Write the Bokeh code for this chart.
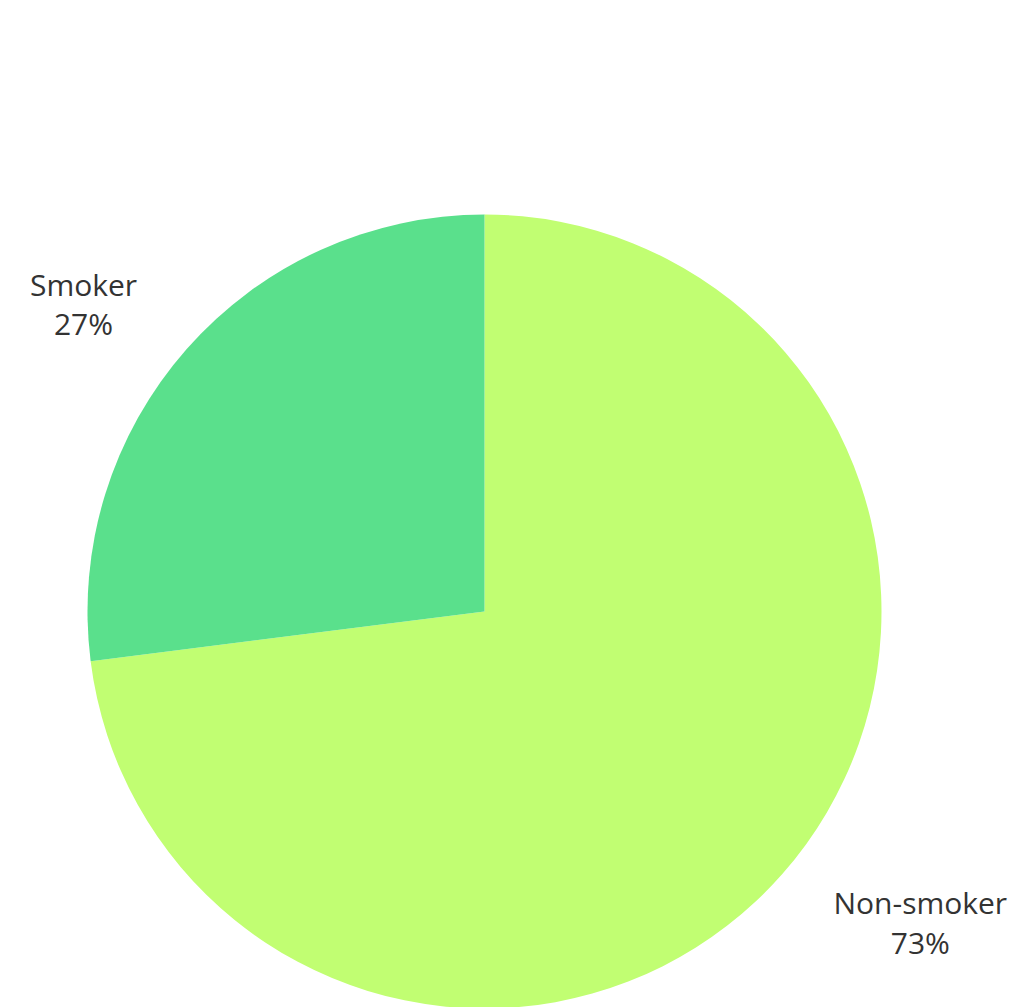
import numpy as np
from bokeh.plotting import figure
from bokeh.models import Range1d, ColumnDataSource
from bokeh.embed import file_html
from bokeh.resources import INLINE
from bokeh.core.properties import value

# ---- data ----
categories = ["Non-smoker", "Smoker"]
shares = [73, 27]
colors = ["#C1FE72", "#5AE08C"]

# ---- layout (pixel-like units) ----
W, H = 1011, 1007
p = figure(width=W, height=H, x_range=Range1d(0, W), y_range=Range1d(-H, 0),
           output_backend="svg", toolbar_location=None, min_border=0)
p.axis.visible = False
p.grid.visible = False
p.outline_line_color = None
p.background_fill_color = "white"
p.border_fill_color = "white"

cx, cy, R = 484, -611, 397
frac = np.array(shares, dtype=float) / sum(shares)
cum = np.concatenate([[0.0], np.cumsum(frac)])
a_from = np.pi / 2 - 2 * np.pi * cum[:-1]   # clockwise from top
a_to = np.pi / 2 - 2 * np.pi * cum[1:]

src = ColumnDataSource(dict(cat=categories, start=a_to, end=a_from, color=colors))
p.wedge(x=cx, y=cy, radius=R, start_angle="start", end_angle="end",
        fill_color="color", line_color=None, source=src)

# ---- outside labels ----
fs = 30
mid = (a_from + a_to) / 2
px = cx + R * np.cos(mid)
py = cy + R * np.sin(mid)
lx, ly1, ly2, t1, t2 = [], [], [], [], []
for i, c in enumerate(categories):
    side = 1 if np.cos(mid[i]) >= 0 else -1
    halfw = 0.29 * fs * len(c)
    lx.append(px[i] + side * (51 + halfw))
    if np.sin(mid[i]) >= 0:
        b2 = py[i] + 25
        b1 = b2 + 39
    else:
        b1 = py[i] - 28
        b2 = b1 - 40
    ly1.append(b1)
    ly2.append(b2)
    t1.append(c)
    t2.append(f"{shares[i]}%")

lab = ColumnDataSource(dict(x=lx, y1=ly1, y2=ly2, t1=t1, t2=t2))
for ycol, tcol in (("y1", "t1"), ("y2", "t2")):
    p.text(x="x", y=ycol, text=tcol, source=lab, text_align="center",
           text_baseline="alphabetic", text_font=value("Open Sans"),
           text_font_size=f"{fs}px", text_color="#333333")

open("out.html", "w").write(file_html(p, INLINE))
